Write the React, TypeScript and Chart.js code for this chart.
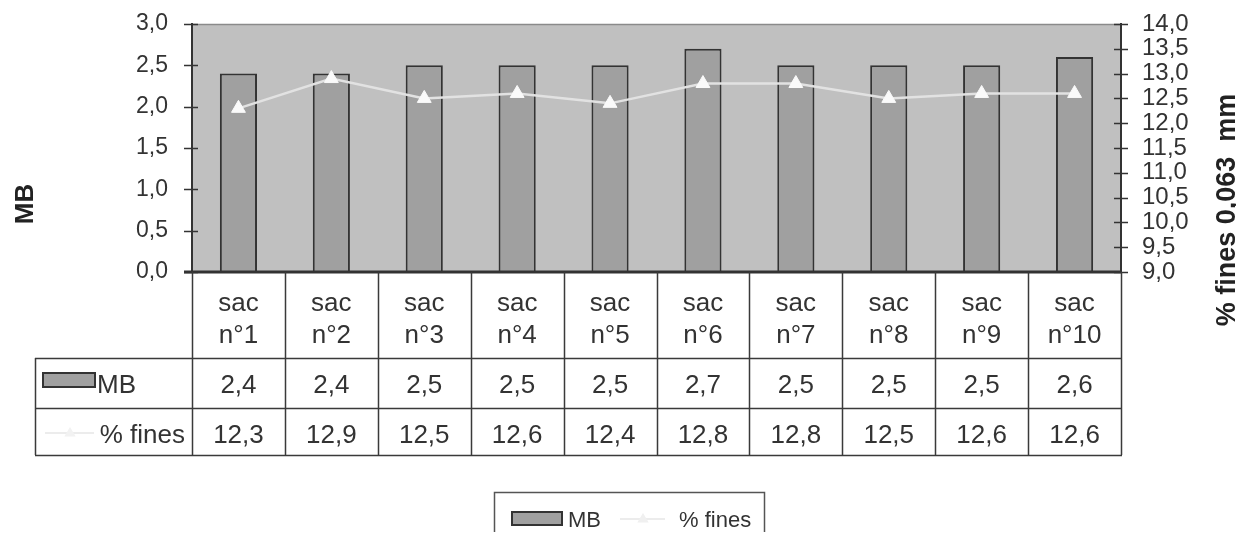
import { useEffect, useRef } from "react";
import { Chart, registerables } from "chart.js";

Chart.register(...registerables);

// Bags tested, and the two measured series per bag
const bagNumbers = ["n°1", "n°2", "n°3", "n°4", "n°5", "n°6", "n°7", "n°8", "n°9", "n°10"];
const categories = bagNumbers.map((n) => ["sac", n]);
const mbValues = [2.4, 2.4, 2.5, 2.5, 2.5, 2.7, 2.5, 2.5, 2.5, 2.6];
const finesValues = [12.3, 12.9, 12.5, 12.6, 12.4, 12.8, 12.8, 12.5, 12.6, 12.6];

// Axis ranges
const mbAxis = { min: 0, max: 3, step: 0.5 };
const finesAxis = { min: 9, max: 14, step: 0.5 };

const seriesNames = ["MB", "% fines"];
const leftTitle = "MB";
const rightTitle = "% fines 0,063  mm";

const FONT = "'Liberation Sans', Arial, Helvetica, sans-serif";
const INK = "#333333";
const PLOT_BG = "#c0c0c0";
const BAR_FILL = "#a0a0a0";
const LINE_COLOR = "#e2e2e2";
const MARKER_FILL = "#fafafa";

const fmt = (v: number) => v.toFixed(1).replace(".", ",");

function drawTriangle(ctx: CanvasRenderingContext2D, x: number, y: number, r: number) {
  ctx.beginPath();
  ctx.moveTo(x, y - r);
  ctx.lineTo(x + r * 0.95, y + r * 0.6);
  ctx.lineTo(x - r * 0.95, y + r * 0.6);
  ctx.closePath();
  ctx.fill();
}

const decorPlugin = {
  id: "decor",
  beforeDraw(chart: any) {
    const { ctx, chartArea: a } = chart;
    ctx.save();
    ctx.fillStyle = PLOT_BG;
    ctx.fillRect(a.left, a.top, a.right - a.left, a.bottom - a.top);
    ctx.strokeStyle = "#8a8a8a";
    ctx.lineWidth = 1.5;
    ctx.beginPath();
    ctx.moveTo(a.left, a.top + 0.5);
    ctx.lineTo(a.right, a.top + 0.5);
    ctx.stroke();
    ctx.restore();
  },
  afterDraw(chart: any) {
    const { ctx, chartArea: a, scales } = chart;
    const xs = scales.x;
    const yl = scales.y;
    const yr = scales.y1;
    const n = categories.length;
    const colW = (a.right - a.left) / n;

    ctx.save();
    ctx.strokeStyle = INK;

    // crossing tick marks on both value axes
    ctx.lineWidth = 1.5;
    ctx.beginPath();
    yl.ticks.forEach((t: any) => {
      const y = Math.round(yl.getPixelForValue(t.value)) + 0.5;
      ctx.moveTo(a.left - 8, y);
      ctx.lineTo(a.left + 6, y);
    });
    yr.ticks.forEach((t: any) => {
      const y = Math.round(yr.getPixelForValue(t.value)) + 0.5;
      ctx.moveTo(a.right - 7, y);
      ctx.lineTo(a.right + 7, y);
    });
    ctx.stroke();

    // category axis line
    ctx.lineWidth = 3;
    ctx.beginPath();
    ctx.moveTo(a.left - 8, a.bottom);
    ctx.lineTo(a.right + 1, a.bottom);
    ctx.stroke();

    // data table under the plot
    const headBottom = a.bottom + 86;
    const rowMid = a.bottom + 136;
    const tableBottom = a.bottom + 183;
    const tableLeft = 27;

    ctx.lineWidth = 1.5;
    ctx.strokeStyle = "#3a3a3a";
    ctx.beginPath();
    for (let i = 0; i <= n; i++) {
      const x = Math.round(a.left + i * colW) + 0.5;
      ctx.moveTo(x, a.bottom);
      ctx.lineTo(x, tableBottom);
    }
    [headBottom, rowMid, tableBottom].forEach((y) => {
      ctx.moveTo(tableLeft, y + 0.5);
      ctx.lineTo(a.right + 1, y + 0.5);
    });
    ctx.moveTo(tableLeft + 0.5, headBottom);
    ctx.lineTo(tableLeft + 0.5, tableBottom);
    ctx.stroke();

    ctx.fillStyle = INK;
    ctx.font = `26px ${FONT}`;
    ctx.textAlign = "center";
    ctx.textBaseline = "alphabetic";
    categories.forEach((lines, i) => {
      const cx = xs.getPixelForValue(i);
      ctx.fillText(lines[0], cx, a.bottom + 39);
      ctx.fillText(lines[1], cx, a.bottom + 71);
      ctx.fillText(fmt(mbValues[i]), cx, a.bottom + 121);
      ctx.fillText(fmt(finesValues[i]), cx, a.bottom + 171);
    });

    // row keys
    ctx.fillStyle = BAR_FILL;
    ctx.fillRect(35, a.bottom + 101, 52, 14);
    ctx.strokeStyle = INK;
    ctx.lineWidth = 2;
    ctx.strokeRect(35, a.bottom + 101, 52, 14);
    ctx.fillStyle = INK;
    ctx.textAlign = "left";
    ctx.fillText(seriesNames[0], 89, a.bottom + 121);

    ctx.strokeStyle = "#ececec";
    ctx.lineWidth = 2;
    ctx.beginPath();
    ctx.moveTo(37, a.bottom + 161);
    ctx.lineTo(86, a.bottom + 161);
    ctx.stroke();
    ctx.fillStyle = "#f2f2f2";
    drawTriangle(ctx, 62, a.bottom + 161, 6);
    ctx.fillStyle = INK;
    ctx.textAlign = "right";
    ctx.fillText(seriesNames[1], 177, a.bottom + 171);

    // legend box
    ctx.strokeStyle = "#555";
    ctx.lineWidth = 1.5;
    ctx.strokeRect(486.5, 484.5, 270, 60);
    ctx.fillStyle = BAR_FILL;
    ctx.fillRect(504, 504, 50, 13);
    ctx.strokeStyle = INK;
    ctx.lineWidth = 2;
    ctx.strokeRect(504, 504, 50, 13);
    ctx.fillStyle = INK;
    ctx.font = `22px ${FONT}`;
    ctx.textAlign = "left";
    ctx.fillText(seriesNames[0], 560, 519);
    ctx.strokeStyle = "#ececec";
    ctx.beginPath();
    ctx.moveTo(612, 511);
    ctx.lineTo(657, 511);
    ctx.stroke();
    ctx.fillStyle = "#f0f0f0";
    drawTriangle(ctx, 635, 511, 6);
    ctx.fillStyle = INK;
    ctx.fillText(seriesNames[1], 671, 519);

    // axis titles
    ctx.fillStyle = "#222";
    ctx.textAlign = "center";
    ctx.textBaseline = "middle";
    ctx.font = `bold 26px ${FONT}`;
    ctx.save();
    ctx.translate(18, 196);
    ctx.rotate(-Math.PI / 2);
    ctx.fillText(leftTitle, 0, 0);
    ctx.restore();
    ctx.font = `bold 27px ${FONT}`;
    ctx.save();
    ctx.translate(1220, 202);
    ctx.rotate(-Math.PI / 2);
    ctx.fillText(rightTitle, 0, 0);
    ctx.restore();

    ctx.restore();
  },
};

export default function App() {
  const canvasRef = useRef<HTMLCanvasElement | null>(null);

  useEffect(() => {
    const canvas = canvasRef.current;
    if (!canvas) return;
    const chart = new Chart(canvas, {
      type: "bar",
      data: {
        labels: categories,
        datasets: [
          {
            type: "line",
            label: seriesNames[1],
            data: finesValues,
            yAxisID: "y1",
            borderColor: LINE_COLOR,
            borderWidth: 2.5,
            tension: 0,
            pointStyle: "triangle",
            pointRadius: 8,
            pointBackgroundColor: MARKER_FILL,
            pointBorderColor: MARKER_FILL,
            pointBorderWidth: 1,
            order: 0,
          },
          {
            type: "bar",
            label: seriesNames[0],
            data: mbValues,
            yAxisID: "y",
            backgroundColor: BAR_FILL,
            borderColor: INK,
            borderWidth: 2,
            barPercentage: 0.4,
            categoryPercentage: 1,
            order: 1,
          },
        ],
      },
      options: {
        responsive: false,
        animation: false,
        events: [],
        layout: { padding: { top: 16, bottom: 260, left: 0, right: 0 } },
        plugins: {
          legend: { display: false },
          tooltip: { enabled: false },
          title: { display: false },
        },
        scales: {
          x: {
            display: false,
            offset: true,
          },
          y: {
            position: "left",
            min: mbAxis.min,
            max: mbAxis.max,
            grid: {
              display: true,
              drawOnChartArea: false,
              drawTicks: true,
              tickLength: 20,
              tickColor: "rgba(0,0,0,0)",
            },
            border: { display: true, color: INK, width: 2 },
            ticks: {
              stepSize: mbAxis.step,
              autoSkip: false,
              padding: 4,
              color: INK,
              font: { family: FONT, size: 23, lineHeight: 1 },
              callback: (v: any) => fmt(Number(v)),
            },
            afterFit: (s: any) => {
              s.width = 184;
            },
          },
          y1: {
            position: "right",
            min: finesAxis.min,
            max: finesAxis.max,
            grid: {
              display: true,
              drawOnChartArea: false,
              drawTicks: true,
              tickLength: 17,
              tickColor: "rgba(0,0,0,0)",
            },
            border: { display: true, color: INK, width: 2 },
            ticks: {
              stepSize: finesAxis.step,
              autoSkip: false,
              padding: 4,
              color: INK,
              font: { family: FONT, size: 24, lineHeight: 1 },
              callback: (v: any) => fmt(Number(v)),
            },
            afterFit: (s: any) => {
              s.width = 115;
            },
          },
        },
      },
      plugins: [decorPlugin],
    });
    return () => chart.destroy();
  }, []);

  return (
    <div style={{ width: 1228, height: 524 }}>
      <canvas ref={canvasRef} width={1228} height={524} style={{ display: "block" }} />
    </div>
  );
}
